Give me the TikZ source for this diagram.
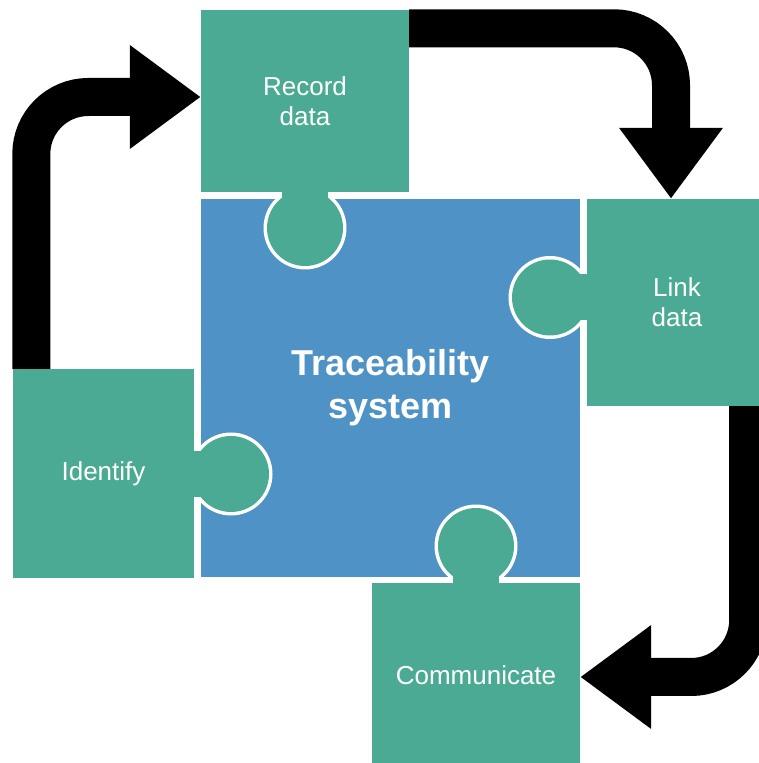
\documentclass[tikz,border=0pt]{standalone}
\usepackage{fontspec}
\setmainfont{Liberation Sans}
\usetikzlibrary{arrows.meta}
\definecolor{piecegreen}{HTML}{4BAA94}
\definecolor{pieceblue}{HTML}{4F92C6}
\tikzset{
  piece/.style={fill=piecegreen, draw=none, inner sep=0pt, text=white, align=center,
    font=\fontsize{26}{30}\selectfont},
  core/.style={fill=pieceblue, draw=none, inner sep=0pt, text=white, align=center,
    font=\fontsize{36}{43}\selectfont\bfseries},
  knobline/.style={draw=white, line width=7pt},
  knobfill/.style={fill=piecegreen},
  flow/.style={draw=black, line width=38pt, rounded corners=57pt,
    -{Triangle[length=71pt,width=99pt]}}
}
\begin{document}
\begin{tikzpicture}[x=1pt,y=1pt]
\useasboundingbox (0,0) rectangle (759,763);
\clip (0,0) rectangle (759,763);

% central piece
\node[core, minimum width=379pt, minimum height=378pt] (sys) at (390.5,375) {Traceability\\system};

% knobs reaching into the central piece (white rim, then green fill)
\foreach \act in {knobline, knobfill}{
  \path[\act] (282,571) rectangle (328,535);
  \path[\act] (305,535) circle (38);
  \path[\act] (587,442.5) rectangle (550,488.5);
  \path[\act] (550,465.5) circle (38);
  \path[\act] (194,266) rectangle (231,312);
  \path[\act] (231,289) circle (38);
  \path[\act] (453,180) rectangle (499,217);
  \path[\act] (476,217) circle (38);
}

% outer pieces
\node[piece, minimum width=208pt, minimum height=182pt] (record) at (305,662) {Record\\data};
\node[piece, minimum width=180pt, minimum height=207pt] (link) at (677,460.5) {Link\\data};
\node[piece, minimum width=181pt, minimum height=209pt] (identify) at (103.5,289.5) {Identify};
\node[piece, minimum width=208pt, minimum height=184pt] (communicate) at (476,88) {Communicate};

% cycle arrows
\draw[flow] ([xshift=18.5pt]identify.north west) |- ([yshift=4pt]record.west);
\draw[flow] ([yshift=-18.5pt]record.north east) -| ([xshift=-6pt]link.north);
\draw[flow] ([xshift=-19pt]link.south east) |- ([yshift=-2pt]communicate.east);
\end{tikzpicture}
\end{document}
